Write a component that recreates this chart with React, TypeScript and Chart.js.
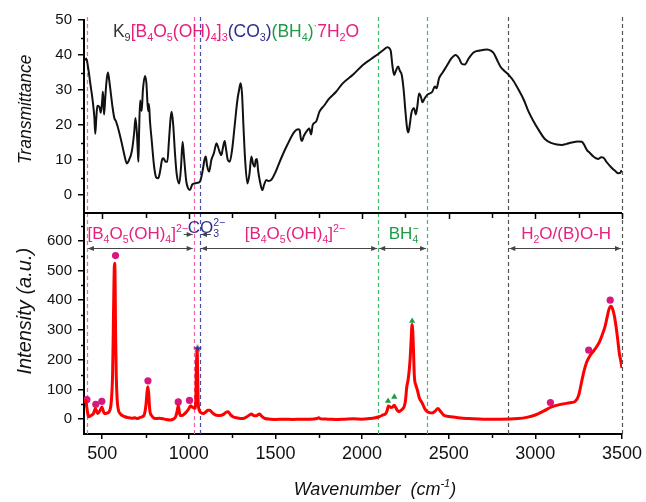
import React, { useEffect, useRef } from 'react';
import { Chart, registerables } from 'chart.js';

Chart.register(...registerables);

const FONT = '"Liberation Sans", Arial, Helvetica, sans-serif';
const PINK = '#e5207f';
const DOT_PINK = '#d6187f';
const NAVY = '#2d2f8f';
const GREEN = '#1f9b48';

// ---------- data ----------
const irSpectrum: [number, number][] = [
  [400, 38.5], [408, 39], [420, 36], [431, 32], [445, 27], [455, 22], [460, 17.5], [466, 22], [472, 25.5],
  [485, 25], [492, 23.5], [500, 27], [504, 29.5], [508, 26], [511, 23], [518, 28], [526, 33], [533, 35],
  [540, 33], [550, 29], [560, 25], [570, 22], [580, 21], [595, 18.5], [613, 14.8], [630, 11], [642, 9],
  [655, 10], [671, 12.5], [685, 18], [692, 22], [700, 18], [706, 12], [709, 9.5], [713, 18], [719, 27],
  [724, 25], [728, 24], [735, 30], [747, 34], [755, 32], [765, 24], [770, 26], [776, 21], [785, 16],
  [800, 8], [812, 5], [824, 4.8], [835, 7], [845, 10], [853, 10.5], [866, 9.5], [876, 9.5], [886, 16],
  [895, 22], [901, 23.8], [910, 20], [920, 12], [930, 6], [945, 3.3], [955, 8], [964, 15.2], [972, 11],
  [985, 4], [995, 2], [1006, 1.4], [1020, 3], [1035, 3.3], [1050, 3.5], [1064, 3.8], [1080, 7], [1090, 10],
  [1098, 11], [1105, 8.5], [1117, 6.7], [1130, 10], [1145, 12], [1160, 14.8], [1170, 13.5], [1180, 12],
  [1188, 11.4], [1195, 13], [1207, 15.4], [1215, 13], [1225, 10], [1236, 9.5], [1250, 13], [1265, 20],
  [1280, 27], [1290, 30], [1299, 31.9], [1307, 29], [1315, 20], [1325, 10], [1338, 3.3], [1350, 6],
  [1361, 11], [1370, 9], [1380, 8.1], [1386, 10], [1393, 10.3], [1400, 7], [1410, 4], [1424, 1.4],
  [1435, 3], [1447, 4.3], [1460, 4], [1476, 4.3], [1500, 6.5], [1533, 10.5], [1570, 14.5], [1610, 18.1],
  [1630, 18.8], [1639, 18.6], [1647, 16], [1652, 15.4], [1665, 17], [1686, 18.6], [1695, 19], [1706, 17.3],
  [1715, 20], [1735, 21], [1754, 23.8], [1780, 25.5], [1811, 27.6], [1850, 29.5], [1888, 31.9], [1950, 34.5],
  [2003, 37.1], [2050, 38.8], [2099, 40.5], [2125, 41.5], [2146, 42.2], [2160, 41.8], [2166, 41], [2175, 37],
  [2185, 34.3], [2195, 35.5], [2208, 36.7], [2218, 35.5], [2229, 34.3], [2240, 30], [2250, 24], [2260, 19],
  [2267, 17.9], [2275, 20], [2285, 23.5], [2300, 24.8], [2310, 23], [2318, 25], [2329, 29], [2340, 28],
  [2348, 26.5], [2360, 27.5], [2376, 28.6], [2390, 29], [2405, 29.5], [2420, 31], [2430, 30.5], [2444, 33.3],
  [2465, 35], [2491, 37.1], [2515, 39], [2540, 40], [2560, 39], [2575, 37.5], [2593, 37.3], [2615, 39],
  [2645, 40.8], [2680, 41.3], [2721, 41.6], [2745, 41.2], [2760, 40.5], [2780, 38.5], [2798, 36.7],
  [2820, 35.5], [2846, 34.3], [2875, 32.5], [2904, 30], [2935, 27], [2961, 23.8], [2990, 21], [3019, 18.6],
  [3055, 16], [3095, 14.8], [3125, 14.4], [3153, 14.3], [3180, 14.6], [3210, 15], [3245, 15.3], [3268, 15.2],
  [3280, 14.5], [3297, 12.9], [3315, 12], [3335, 11], [3350, 10.5], [3364, 10.3], [3380, 10.8], [3393, 10.7],
  [3410, 9.5], [3440, 7.8], [3460, 6.9], [3479, 6.2], [3490, 6.3], [3498, 7.1],
];

const ramanSpectrum: [number, number][] = [
  [400, 55], [405, 62], [410, 45], [415, 25], [421, 8], [430, 10], [440, 14], [450, 19], [456, 30], [460, 36],
  [466, 30], [473, 19], [480, 22], [490, 32], [498, 41], [505, 30], [512, 19], [525, 20], [540, 25], [550, 45],
  [556, 90], [560, 150], [564, 300], [568, 460], [571, 524], [574, 500], [577, 300], [581, 154], [586, 70],
  [594, 30], [605, 18], [613, 13], [630, 8], [650, 5], [670, 3], [690, 5], [700, 2], [720, 6], [740, 12],
  [747, 25], [753, 50], [758, 85], [763, 109], [768, 90], [772, 50], [776, 25], [785, 12], [805, 2], [830, 3],
  [860, 0], [891, -3], [910, 0], [924, 8], [932, 25], [939, 45], [944, 30], [949, 13], [960, 12], [975, 18],
  [987, 25], [1000, 35], [1010, 45], [1020, 40], [1030, 38], [1035, 36], [1040, 60], [1044, 180], [1048, 232],
  [1051, 150], [1054, 60], [1060, 30], [1070, 22], [1083, 19], [1100, 25], [1110, 30], [1121, 30], [1135, 22],
  [1150, 15], [1160, 13], [1180, 12], [1200, 16], [1215, 23], [1226, 25], [1240, 15], [1255, 8], [1280, 4],
  [1312, 2], [1335, 8], [1350, 14], [1361, 17], [1375, 12], [1390, 11], [1400, 15], [1409, 17], [1420, 10],
  [1440, 2], [1470, 0], [1500, -1], [1550, 0], [1600, -1], [1650, 0], [1700, 0], [1740, 2], [1750, 5],
  [1760, 1], [1800, 0], [1850, -1], [1900, 0], [1950, 1], [2000, 0], [2041, 2], [2070, 4], [2098, 8],
  [2120, 14], [2137, 19], [2145, 30], [2152, 44], [2160, 42], [2166, 39], [2175, 40], [2185, 47], [2195, 38],
  [2205, 28], [2214, 25], [2225, 30], [2235, 35], [2242, 41], [2250, 60], [2258, 109], [2265, 130],
  [2271, 159], [2277, 200], [2283, 266], [2287, 311], [2290, 318], [2293, 290], [2296, 243], [2302, 142],
  [2310, 115], [2319, 98], [2330, 72], [2348, 53], [2362, 35], [2376, 25], [2390, 22], [2405, 21], [2420, 26],
  [2438, 36], [2450, 28], [2472, 13], [2500, 9], [2540, 6], [2580, 3], [2616, 2], [2700, 0], [2800, 0],
  [2900, 2], [2950, 6], [3000, 14], [3050, 28], [3094, 41], [3150, 50], [3200, 55], [3230, 60], [3250, 80],
  [3265, 120], [3280, 160], [3295, 190], [3312, 210], [3330, 225], [3350, 240], [3370, 260], [3390, 290],
  [3402, 311], [3415, 345], [3425, 370], [3437, 380], [3445, 372], [3455, 350], [3465, 315], [3475, 270],
  [3485, 220], [3492, 200], [3500, 172],
];

const borateMarks: [number, number][] = [
  [412, 66], [463, 50], [498, 60], [577, 550], [764, 129], [939, 58], [1004, 63], [3087, 56], [3308, 232], [3432, 400],
];
const carbonateMarks: [number, number][] = [[1050, 238]];
const borohydrideMarks: [number, number][] = [[2150, 61], [2186, 75], [2289, 330]];

const xMajorTicks = [500, 1000, 1500, 2000, 2500, 3000, 3500];
const xMinorTicks = [750, 1250, 1750, 2250, 2750, 3250];
const transMajorTicks = [0, 10, 20, 30, 40, 50];
const transMinorTicks = [5, 15, 25, 35, 45];
const intMajorTicks = [0, 100, 200, 300, 400, 500, 600];
const intMinorTicks = [50, 150, 250, 350, 450, 550, 650];

const guideLines = [412, 1028, 1064, 2093, 2375, 2844, 3500];
const guideColors = ['#f064a8', '#f064a8', '#4a4cab', '#3dbb6a', '#3dbb6a', '#555555', '#555555'];

const regionFrom = [412, 1064, 2093, 2844];
const regionTo = [1028, 2093, 2375, 3500];
const regionLabels = ['[B_{4}O_{5}(OH)_{4}]^{2−}', '[B_{4}O_{5}(OH)_{4}]^{2−}', 'BH_{4}^{−}', 'H_{2}O/(B)O-H'];
const regionLabelAt = [705, 1612, 2240, 3178];
const regionColors = [PINK, PINK, GREEN, PINK];
const carbonateLabel = 'CO_{3}^{2−}';
const carbonateLabelAt = 1102;

const titlePieces: [string, string][] = [
  ['K_{9}', '#333333'],
  ['[B_{4}O_{5}(OH)_{4}]_{3}', PINK],
  ['(CO_{3})', NAVY],
  ['(BH_{4})', GREEN],
  ['^{·}7H_{2}O', PINK],
];

// ---------- rich text ----------
type Seg = { t: string; k: 'n' | 'b' | 'p' };
function parseRich(s: string): Seg[] {
  const out: Seg[] = [];
  let buf = '';
  let i = 0;
  while (i < s.length) {
    const ch = s[i];
    if ((ch === '_' || ch === '^') && s[i + 1] === '{') {
      if (buf) { out.push({ t: buf, k: 'n' }); buf = ''; }
      const end = s.indexOf('}', i);
      out.push({ t: s.slice(i + 2, end), k: ch === '_' ? 'b' : 'p' });
      i = end + 1;
    } else {
      buf += ch;
      i++;
    }
  }
  if (buf) out.push({ t: buf, k: 'n' });
  return out;
}

function drawRich(
  ctx: CanvasRenderingContext2D,
  pieces: [string, string][],
  x: number,
  y: number,
  size: number,
  align: 'left' | 'center',
  italic = false,
) {
  const small = size * 0.62;
  const st = italic ? 'italic ' : '';
  const fN = `${st}${size}px ${FONT}`;
  const fS = `${st}${small}px ${FONT}`;
  let cx = 0;
  let prev: { k: string; start: number; w: number } | null = null;
  const items: { t: string; k: string; col: string; start: number }[] = [];
  for (const [txt, col] of pieces) {
    for (const seg of parseRich(txt)) {
      ctx.font = seg.k === 'n' ? fN : fS;
      const w = ctx.measureText(seg.t).width;
      let start = cx;
      if (prev && seg.k !== 'n' && prev.k !== 'n' && prev.k !== seg.k) {
        start = prev.start;
        cx = prev.start + Math.max(prev.w, w);
      } else {
        cx += w;
      }
      items.push({ t: seg.t, k: seg.k, col, start });
      prev = { k: seg.k, start, w };
    }
  }
  const x0 = align === 'center' ? x - cx / 2 : x;
  ctx.textAlign = 'left';
  ctx.textBaseline = 'alphabetic';
  for (const it of items) {
    ctx.font = it.k === 'n' ? fN : fS;
    ctx.fillStyle = it.col;
    const dy = it.k === 'b' ? size * 0.22 : it.k === 'p' ? -size * 0.42 : 0;
    ctx.fillText(it.t, x0 + it.start, y + dy);
  }
}

function arrowHead(ctx: CanvasRenderingContext2D, x: number, y: number, dir: number) {
  ctx.beginPath();
  ctx.moveTo(x, y);
  ctx.lineTo(x - dir * 6, y - 2.6);
  ctx.lineTo(x - dir * 6, y + 2.6);
  ctx.closePath();
  ctx.fill();
}

const decor = {
  id: 'decor',
  beforeDatasetsDraw(chart: any) {
    const { ctx, chartArea, scales } = chart;
    const x = scales.x;
    ctx.save();
    ctx.setLineDash([4, 3]);
    ctx.lineWidth = 1.2;
    guideLines.forEach((v, i) => {
      const px = Math.round(x.getPixelForValue(v)) + 0.5;
      ctx.strokeStyle = guideColors[i];
      ctx.beginPath();
      ctx.moveTo(px, chartArea.top - 3);
      ctx.lineTo(px, chartArea.bottom);
      ctx.stroke();
    });
    ctx.restore();
  },
  afterDraw(chart: any) {
    const { ctx, chartArea, scales } = chart;
    const x = scales.x, yT = scales.yT, yB = scales.yB;
    const left = chartArea.left;
    ctx.save();
    ctx.strokeStyle = '#000';
    ctx.lineWidth = 1.5;
    const yTick = (sc: any, v: number, len: number) => {
      const py = Math.round(sc.getPixelForValue(v)) + 0.5;
      ctx.beginPath();
      ctx.moveTo(left, py);
      ctx.lineTo(left - len, py);
      ctx.stroke();
    };
    transMinorTicks.forEach((v) => yTick(yT, v, 3));
    intMinorTicks.forEach((v) => yTick(yB, v, 3));
    const xTick = (v: number, y0: number, len: number) => {
      const px = Math.round(x.getPixelForValue(v)) + 0.5;
      ctx.beginPath();
      ctx.moveTo(px, y0);
      ctx.lineTo(px, y0 + len);
      ctx.stroke();
    };
    xMinorTicks.forEach((v) => xTick(v, chartArea.bottom, 4));
    const my = Math.round(yT.bottom);
    ctx.lineWidth = 2;
    ctx.beginPath();
    ctx.moveTo(left, my);
    ctx.lineTo(chartArea.right, my);
    ctx.stroke();
    ctx.lineWidth = 1.5;
    xMajorTicks.forEach((v) => xTick(v, my, 6));
    xMinorTicks.forEach((v) => xTick(v, my, 5));

    ctx.strokeStyle = '#444';
    ctx.fillStyle = '#444';
    ctx.lineWidth = 1;
    const ay = Math.round(yB.getPixelForValue(577)) + 0.5;
    regionFrom.forEach((a, i) => {
      const xa = x.getPixelForValue(a) + 1;
      const xb = x.getPixelForValue(regionTo[i]) - 1;
      ctx.beginPath();
      ctx.moveTo(xa, ay);
      ctx.lineTo(xb, ay);
      ctx.stroke();
      arrowHead(ctx, xa, ay, -1);
      arrowHead(ctx, xb, ay, 1);
    });
    const cy = Math.round(yB.getPixelForValue(622)) + 0.5;
    const cxa = x.getPixelForValue(guideLines[1]) - 1;
    const cxb = x.getPixelForValue(guideLines[2]) + 1;
    ctx.beginPath();
    ctx.moveTo(cxa - 9, cy);
    ctx.lineTo(cxa, cy);
    ctx.moveTo(cxb, cy);
    ctx.lineTo(cxb + 10, cy);
    ctx.stroke();
    arrowHead(ctx, cxa, cy, 1);
    arrowHead(ctx, cxb, cy, -1);

    const ly = yB.getPixelForValue(605);
    regionLabels.forEach((lab, i) => {
      drawRich(ctx, [[lab, regionColors[i]]], x.getPixelForValue(regionLabelAt[i]), ly, 17, 'center');
    });
    drawRich(ctx, [[carbonateLabel, NAVY]], x.getPixelForValue(carbonateLabelAt), yB.getPixelForValue(626), 17, 'center');

    drawRich(ctx, titlePieces, x.getPixelForValue(562), yT.getPixelForValue(45.2), 17.5, 'left');

    const rot = (text: string, cxp: number, cyp: number, size: number) => {
      ctx.save();
      ctx.translate(cxp, cyp);
      ctx.rotate(-Math.PI / 2);
      drawRich(ctx, [[text, '#111']], 0, 0, size, 'center', true);
      ctx.restore();
    };
    rot('Transmittance', 31, (yT.top + yT.bottom) / 2 - 7, 17.5);
    rot('Intensity (a.u.)', 31, (yB.top + yB.bottom) / 2 - 12, 20);
    drawRich(ctx, [['Wavenumber  (cm^{-1})', '#111']], 375, 495, 18, 'center', true);
    ctx.restore();
  },
};

export default function App() {
  const ref = useRef<HTMLCanvasElement>(null);
  useEffect(() => {
    const canvas = ref.current!;
    const star = document.createElement('canvas');
    star.width = 10;
    star.height = 10;
    const sc = star.getContext('2d')!;
    sc.fillStyle = NAVY;
    sc.beginPath();
    for (let i = 0; i < 10; i++) {
      const r = i % 2 === 0 ? 4.6 : 1.9;
      const a = -Math.PI / 2 + (i * Math.PI) / 5;
      const px = 5 + r * Math.cos(a);
      const py = 5.4 + r * Math.sin(a);
      if (i === 0) sc.moveTo(px, py); else sc.lineTo(px, py);
    }
    sc.closePath();
    sc.fill();

    const toXY = (arr: [number, number][]) => arr.map(([a, b]) => ({ x: a, y: b }));
    const tickFont = (size: number) => ({ family: FONT, size });
    const plain = (v: any) => String(v);

    const chart = new Chart(canvas, {
      type: 'scatter',
      data: {
        datasets: [
          {
            data: toXY(irSpectrum), yAxisID: 'yT', showLine: true, borderColor: '#111', borderWidth: 2,
            pointRadius: 0, cubicInterpolationMode: 'monotone',
          },
          {
            data: toXY(ramanSpectrum), yAxisID: 'yB', showLine: true, borderColor: '#ff0000', borderWidth: 3,
            pointRadius: 0, cubicInterpolationMode: 'monotone',
          },
          {
            data: toXY(borateMarks), yAxisID: 'yB', pointStyle: 'circle', pointRadius: 3.6,
            backgroundColor: DOT_PINK, borderColor: DOT_PINK, borderWidth: 0,
          },
          {
            data: toXY(borohydrideMarks), yAxisID: 'yB', pointStyle: 'triangle', pointRadius: 3.6,
            backgroundColor: GREEN, borderColor: GREEN, borderWidth: 0,
          },
          {
            data: toXY(carbonateMarks), yAxisID: 'yB', pointStyle: star as any, pointRadius: 5,
          },
        ] as any,
      },
      options: {
        responsive: false,
        animation: false,
        events: [],
        layout: { padding: { top: 20, right: 22, left: 0, bottom: 0 } },
        plugins: { legend: { display: false }, tooltip: { enabled: false } },
        scales: {
          x: {
            type: 'linear', position: 'bottom', min: 395, max: 3500,
            afterFit: (s: any) => { s.height = 68; },
            afterBuildTicks: (s: any) => { s.ticks = xMajorTicks.map((v) => ({ value: v })); },
            grid: { drawOnChartArea: false, drawTicks: true, tickLength: 5, color: '#000', lineWidth: 1.5 },
            border: { color: '#000', width: 2 },
            ticks: { font: tickFont(18), color: '#111', padding: 4, maxRotation: 0, autoSkip: false, callback: plain },
          },
          yB: {
            type: 'linear', position: 'left', stack: 'v', stackWeight: 221.5, weight: 0, min: -50, max: 695,
            afterFit: (s: any) => { s.width = 84; },
            afterBuildTicks: (s: any) => { s.ticks = intMajorTicks.map((v) => ({ value: v })); },
            grid: { drawOnChartArea: false, drawTicks: true, tickLength: 6, color: '#000', lineWidth: 1.5 },
            border: { color: '#000', width: 2 },
            ticks: { font: tickFont(15), color: '#111', padding: 6, callback: plain },
          },
          yT: {
            type: 'linear', position: 'left', stack: 'v', stackWeight: 192.5, weight: 1, min: -5, max: 50,
            afterFit: (s: any) => { s.width = 84; },
            afterBuildTicks: (s: any) => { s.ticks = transMajorTicks.map((v) => ({ value: v })); },
            grid: { drawOnChartArea: false, drawTicks: true, tickLength: 6, color: '#000', lineWidth: 1.5 },
            border: { color: '#000', width: 2 },
            ticks: { font: tickFont(15), color: '#111', padding: 6, callback: plain },
          },
        } as any,
      },
      plugins: [decor],
    });
    return () => chart.destroy();
  }, []);

  return (
    <div style={{ position: 'absolute', left: 0, top: 0, width: 646, height: 502, background: '#fff' }}>
      <canvas ref={ref} width={646} height={502} style={{ display: 'block' }} />
    </div>
  );
}
